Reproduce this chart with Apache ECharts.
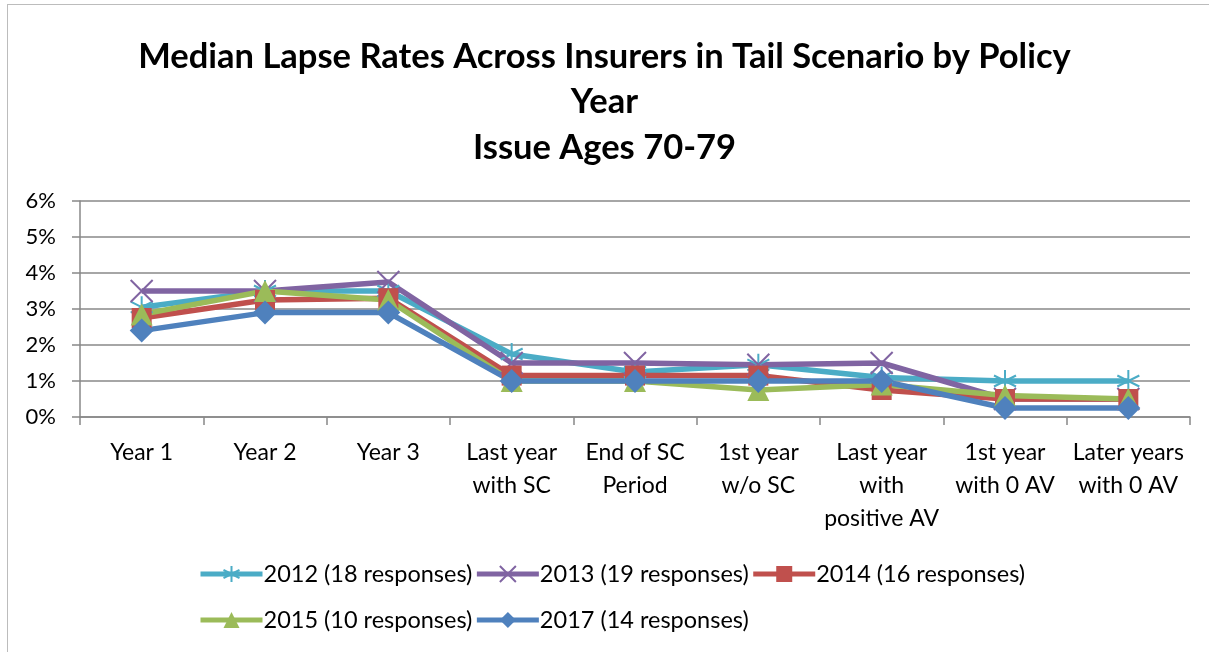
<!DOCTYPE html>
<html>
<head>
<meta charset="utf-8">
<script src="https://cdn.jsdelivr.net/npm/echarts@6/dist/echarts.min.js"></script>
<style>
  html, body { margin: 0; padding: 0; background: #fff; }
  #frame {
    position: absolute; left: 7px; top: 4px; width: 1210px; height: 660px;
    border: 1px solid #bcbcbc; box-sizing: border-box;
  }
  #chart { position: absolute; left: 0; top: 0; width: 1209px; height: 652px; }
</style>
</head>
<body>
<div id="frame"></div>
<div id="chart"></div>
<script>
  // categories on the x axis
  const categories = [
    'Year 1', 'Year 2', 'Year 3', 'Last year\nwith SC', 'End of SC\nPeriod',
    '1st year\nw/o SC', 'Last year\nwith\npositive AV', '1st year\nwith 0 AV', 'Later years\nwith 0 AV'
  ];
  const yTicks = [0, 1, 2, 3, 4, 5, 6];

  // median lapse rates (%)
  const s2012 = [3.05, 3.5, 3.5, 1.75, 1.25, 1.45, 1.1, 1.0, 1.0];
  const s2013 = [3.5, 3.5, 3.75, 1.5, 1.5, 1.45, 1.5, 0.5, 0.5];
  const s2014 = [2.75, 3.25, 3.3, 1.15, 1.15, 1.15, 0.75, 0.5, 0.5];
  const s2015 = [2.85, 3.5, 3.25, 1.0, 1.0, 0.75, 0.9, 0.6, 0.5];
  const s2017 = [2.4, 2.9, 2.9, 1.0, 1.0, 1.0, 1.0, 0.25, 0.25];

  const seriesNames = [
    '2012 (18 responses)', '2013 (19 responses)', '2014 (16 responses)',
    '2015 (10 responses)', '2017 (14 responses)'
  ];

  const font = 'Lato, "Open Sans", sans-serif';
  const asterisk = 'path://M5,0 L5,10 M0.7,2.5 L9.3,7.5 M9.3,2.5 L0.7,7.5';
  const cross = 'path://M0,0 L10,10 M10,0 L0,10';

  function mkLine(name, data, color, symbol, size, stroked) {
    return {
      name: name,
      type: 'line',
      data: data,
      symbol: symbol,
      symbolSize: size,
      lineStyle: { color: color, width: 5.5 },
      itemStyle: stroked
        ? { color: 'rgba(0,0,0,0)', borderColor: color, borderWidth: 2 }
        : { color: color },
      emphasis: { disabled: true },
      animation: false
    };
  }

  function mkLegend(names, top) {
    return {
      left: 193,
      top: top,
      itemWidth: 62,
      itemHeight: 20,
      itemGap: 2,
      lineStyle: { width: 5 },
      textStyle: { fontFamily: font, fontSize: 23.5, color: '#000', padding: [0, 0, 0, -4] },
      data: names
    };
  }

  let chart = echarts.init(document.getElementById('chart'));
  chart.setOption({
    backgroundColor: 'transparent',
    title: {
      text: 'Median Lapse Rates Across Insurers in Tail Scenario by Policy\nYear\nIssue Ages 70-79',
      left: 'center',
      top: 29,
      textStyle: { fontFamily: font, fontSize: 34.5, fontWeight: 'bold', color: '#000', lineHeight: 45.5 }
    },
    legend: [
      mkLegend(seriesNames.slice(0, 3), 557),
      mkLegend(seriesNames.slice(3), 603)
    ],
    grid: { left: 80, right: 19, top: 201, bottom: 235 },
    xAxis: {
      type: 'category',
      data: categories,
      axisLine: { lineStyle: { color: '#888', width: 1.5 } },
      axisTick: { show: true, length: 8, lineStyle: { color: '#888', width: 1.5 } },
      axisLabel: { fontFamily: font, fontSize: 23, color: '#000', lineHeight: 33, margin: 19, interval: 0 }
    },
    yAxis: {
      type: 'value',
      min: 0,
      max: 6,
      interval: 1,
      axisLine: { show: true, lineStyle: { color: '#888', width: 1.5 } },
      axisTick: { show: true, length: 8, lineStyle: { color: '#888', width: 1.5 } },
      splitLine: { lineStyle: { color: '#888', width: 1.5 } },
      axisLabel: {
        fontFamily: font, fontSize: 22, color: '#000', margin: 24,
        formatter: function (v) { return yTicks.indexOf(v) >= 0 ? v + '%' : ''; }
      }
    },
    series: [
      mkLine(seriesNames[0], s2012, '#4BACC6', asterisk, 22, true),
      mkLine(seriesNames[1], s2013, '#8064A2', cross, 22, true),
      mkLine(seriesNames[2], s2014, '#C0504D', 'rect', 20, false),
      mkLine(seriesNames[3], s2015, '#9BBB59', 'triangle', 22, false),
      mkLine(seriesNames[4], s2017, '#4F81BD', 'diamond', 24, false)
    ]
  });
</script>
</body>
</html>
